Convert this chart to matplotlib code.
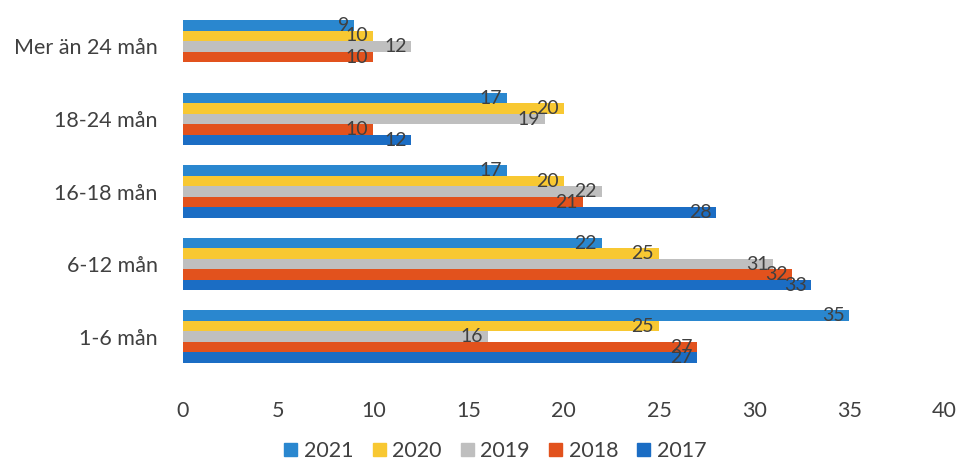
import matplotlib.pyplot as plt
import matplotlib.patches as mpatches
import numpy as np

plt.rcParams["font.family"] = ["Lato", "DejaVu Sans"]

categories = ["1-6 mån", "6-12 mån", "16-18 mån", "18-24 mån", "Mer än 24 mån"]
years = ["2021", "2020", "2019", "2018", "2017"]
v2021 = [35, 22, 17, 17, 9]
v2020 = [25, 25, 20, 20, 10]
v2019 = [16, 31, 22, 19, 12]
v2018 = [27, 32, 21, 10, 10]
v2017 = [27, 33, 28, 12, 0]
series = [v2021, v2020, v2019, v2018, v2017]
colors = ["#2a87cf", "#f8c832", "#bfbfbf", "#e2521d", "#1b6dc4"]

fig = plt.figure(figsize=(9.62, 4.65), dpi=100)
ax = fig.add_axes([0.19, 0.198, 0.792, 0.78])

y = np.arange(len(categories))
h = 0.145
for i, (vals, col) in enumerate(zip(series, colors)):
    pos = y + (2 - i) * h
    ax.barh(pos, vals, height=h, color=col, zorder=2)
    for yy, v in zip(pos, vals):
        if v:
            ax.text(v - 0.25, yy, str(v), ha="right", va="center",
                    fontsize=14, color="#404040", zorder=3)

ax.set_xlim(0, 40)
ax.set_ylim(-0.5, len(categories) - 0.5)
ax.set_xticks(range(0, 41, 5))
ax.set_yticks(y)
ax.set_yticklabels(categories)
ax.tick_params(axis="both", length=0, labelsize=15.5, colors="#404040")
ax.tick_params(axis="x", pad=20)
ax.tick_params(axis="y", pad=18)
for s in ax.spines.values():
    s.set_visible(False)

handles = [mpatches.Patch(color=c, label=l) for c, l in zip(colors, years)]
fig.legend(handles=handles, loc="center", bbox_to_anchor=(0.515, 0.03),
           ncol=5, frameon=False, fontsize=15.5, handlelength=0.6,
           handleheight=0.6, handletextpad=0.3, columnspacing=0.9,
           labelcolor="#404040", borderpad=0.2)

fig.savefig("out.png", dpi=100, facecolor="white")
